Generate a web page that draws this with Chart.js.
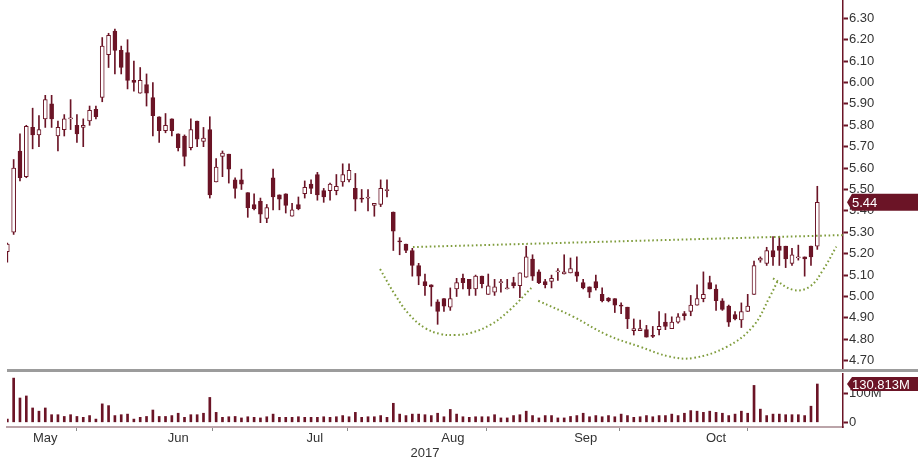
<!DOCTYPE html>
<html>
<head>
<meta charset="utf-8">
<script src="https://cdn.jsdelivr.net/npm/chart.js@4.4.1/dist/chart.umd.min.js"></script>
<style>
  html, body { margin: 0; padding: 0; background: #fff; }
  #wrap { position: relative; width: 918px; height: 463px; overflow: hidden; }
  #price { position: absolute; left: 0; top: 0; }
  #volume { position: absolute; left: 0; top: 372px; }
  #sep { position: absolute; left: 7px; right: 0; top: 369px; height: 3px; background: #9c9c9c; }
</style>
</head>
<body>
<div id="wrap">
  <canvas id="price" width="918" height="370"></canvas>
  <div id="sep"></div>
  <canvas id="volume" width="918" height="91"></canvas>
</div>
<script>
/* daily candles, May - Oct 2017 */
const OPEN = [5.21,5.30,5.68,5.56,5.79,5.755,5.83,5.90,5.75,5.78,
  5.83,5.80,5.79,5.82,5.875,5.93,6.13,6.24,6.15,6.14,
  6.01,5.95,5.99,5.93,5.84,5.775,5.83,5.76,5.75,5.695,
  5.82,5.725,5.78,5.535,5.655,5.665,5.545,5.545,5.485,5.43,
  5.445,5.365,5.555,5.475,5.48,5.375,5.43,5.48,5.525,5.57,
  5.495,5.495,5.495,5.535,5.545,5.505,5.46,5.46,5.425,5.43,
  5.495,5.395,5.26,5.245,5.215,5.145,5.07,5.055,4.975,4.99,
  4.95,5.035,5.085,5.08,5.035,5.095,5.01,5.02,5.065,5.035,
  5.065,5.05,5.09,5.175,5.115,5.07,5.07,5.115,5.105,5.11,
  5.115,5.065,5.045,5.07,5.01,4.992,4.99,4.96,4.95,4.84,
  4.84,4.845,4.818,4.845,4.88,4.85,4.88,4.92,4.93,4.96,
  4.99,5.065,5.035,4.98,4.955,4.915,4.89,4.93,5.01,5.17,
  5.155,5.215,5.235,5.235,5.155,5.18,5.185,5.235,5.235];
const HIGH = [5.25,5.64,5.76,5.80,5.88,5.845,5.94,5.94,5.82,5.85,
  5.92,5.85,5.83,5.89,5.89,6.21,6.23,6.25,6.17,6.20,
  6.10,6.07,6.04,6.00,5.84,5.855,5.83,5.76,5.755,5.83,
  5.82,5.79,5.84,5.645,5.68,5.665,5.555,5.595,5.485,5.48,
  5.46,5.43,5.595,5.475,5.48,5.435,5.465,5.54,5.545,5.58,
  5.505,5.53,5.57,5.62,5.62,5.575,5.50,5.50,5.435,5.545,
  5.545,5.395,5.275,5.245,5.225,5.155,5.105,5.055,4.985,4.99,
  5.04,5.085,5.105,5.08,5.10,5.095,5.105,5.08,5.08,5.08,
  5.09,5.11,5.235,5.195,5.125,5.08,5.10,5.13,5.195,5.18,
  5.185,5.08,5.045,5.10,5.04,4.995,4.99,4.97,4.95,4.895,
  4.89,4.865,4.86,4.93,4.92,4.905,4.92,4.93,5.005,5.055,
  5.115,5.095,5.055,4.99,4.96,4.93,4.97,5.01,5.165,5.185,
  5.23,5.28,5.28,5.235,5.225,5.24,5.185,5.235,5.515];
const LOW = [5.16,5.29,5.54,5.555,5.69,5.70,5.79,5.79,5.68,5.75,
  5.78,5.72,5.70,5.80,5.83,5.91,6.07,6.04,6.04,5.97,
  5.96,5.95,5.89,5.75,5.72,5.765,5.75,5.68,5.61,5.685,
  5.70,5.70,5.46,5.535,5.56,5.53,5.46,5.50,5.37,5.405,
  5.345,5.345,5.405,5.405,5.39,5.375,5.405,5.46,5.48,5.45,
  5.44,5.45,5.475,5.515,5.535,5.40,5.44,5.40,5.375,5.42,
  5.465,5.215,5.195,5.205,5.095,5.055,5.005,4.955,4.87,4.93,
  4.935,5.00,5.035,5.005,5.005,5.04,5.01,5.005,5.02,5.035,
  5.04,4.995,5.09,5.075,5.06,5.04,5.04,5.075,5.105,5.11,
  5.07,5.035,4.995,5.03,4.975,4.975,4.925,4.92,4.85,4.82,
  4.84,4.81,4.808,4.82,4.845,4.85,4.875,4.89,4.91,4.96,
  4.975,5.035,4.935,4.935,4.86,4.89,4.855,4.93,5.01,5.16,
  5.145,5.145,5.145,5.135,5.145,5.17,5.095,5.145,5.22];
const CLOSE = [5.245,5.60,5.555,5.795,5.755,5.78,5.92,5.83,5.79,5.83,
  5.835,5.76,5.80,5.87,5.84,6.17,6.22,6.15,6.07,6.01,
  6.00,6.01,5.95,5.845,5.775,5.80,5.775,5.695,5.655,5.78,
  5.735,5.74,5.475,5.605,5.67,5.595,5.505,5.525,5.415,5.41,
  5.385,5.415,5.465,5.455,5.425,5.405,5.41,5.51,5.505,5.475,
  5.465,5.525,5.515,5.57,5.59,5.455,5.455,5.465,5.435,5.505,
  5.50,5.305,5.255,5.215,5.145,5.095,5.05,5.045,4.93,4.955,
  4.99,5.065,5.065,5.035,5.095,5.06,5.05,5.045,5.07,5.04,
  5.05,5.11,5.185,5.095,5.065,5.055,5.085,5.12,5.115,5.13,
  5.095,5.04,5.02,5.04,4.98,4.98,4.96,4.955,4.895,4.85,
  4.85,4.81,4.813,4.86,4.86,4.88,4.905,4.91,4.96,4.99,
  5.01,5.035,4.98,4.94,4.88,4.895,4.93,4.955,5.145,5.18,
  5.215,5.185,5.215,5.175,5.195,5.185,5.175,5.185,5.44];
// volume, millions of shares
const VOLUME = [11,151,83,90,49,38,49,26,26,20,
  26,20,17,23,11,63,57,23,26,28,
  11,17,20,42,20,20,23,31,17,26,
  26,31,85,34,17,19,20,15,19,17,
  15,19,28,17,17,17,19,17,17,17,
  19,17,19,23,19,34,17,19,19,23,
  17,65,28,23,28,28,26,23,31,19,
  44,28,19,17,19,19,19,26,15,15,
  23,26,38,23,15,23,23,15,15,20,
  23,31,19,23,19,23,19,28,23,17,
  19,23,19,23,23,28,23,31,40,38,
  34,38,34,31,23,28,38,31,126,45,
  23,28,28,26,26,26,23,55,130.813];

const PRICE_TICKS = [4.7,4.8,4.9,5.0,5.1,5.2,5.3,5.4,5.5,5.6,5.7,5.8,5.9,6.0,6.1,6.2,6.3];
const PRICE_MINOR = [4.75,4.85,4.95,5.05,5.15,5.25,5.35,5.45,5.55,5.65,5.75,5.85,5.95,6.05,6.15,6.25,6.35];
const VOL_TICKS = [0, 100];
const MONTHS = ['May','Jun','Jul','Aug','Sep','Oct'];
const MONTH_POS = [6, 27, 48.6, 70.4, 91.4, 112];
const MONTH_BOUNDS = [16, 37.9, 59, 80.9, 102, 122];
const YEAR_TEXT = '2017';
const YEAR_POS = 66;

// hand-drawn pattern lines, [bar index, price]
const NECKLINE = [[64.1,5.231],[132.1,5.287]];
const LEFT_CUP = [[58.9,5.128],[61.3,5.007],[63.6,4.913],[66.0,4.853],[68.4,4.825],[70.7,4.820],[73.1,4.829],[76.3,4.867],[79.4,4.937],[82.8,5.040]];
const HEAD_CUP = [[83.9,4.980],[89.4,4.906],[94.8,4.820],[100.0,4.765],[104.7,4.719],[108.4,4.713],[113.7,4.765],[117.8,4.859],[120.5,4.999],[121.8,5.077]];
const RIGHT_CUP = [[121.0,5.085],[124.2,5.031],[126.8,5.046],[128.9,5.124],[131.0,5.233]];

const X_MIN = -0.05, X_MAX = 132.06;
const MAROON = '#6b1426';
const GREEN = '#7f9c3c';
const TXT = '#333333';
const FONT = "'Liberation Sans', Arial, sans-serif";

const idx = OPEN.map((_, i) => i);
const toPts = arr => arr.map(p => ({x: p[0], y: p[1]}));
const isMajor = v => PRICE_TICKS.some(t => Math.abs(t - v) < 1e-6);

// axis labels never overflow here, so drop the half-label padding chart.js reserves
const noPad = s => { s.paddingTop = 0; s.paddingBottom = 0; s.paddingLeft = 0; s.paddingRight = 0; };

const flagPlugin = {
  id: 'lastFlag',
  afterDraw(chart, args, opts){
    const {ctx, chartArea} = chart;
    const y = chart.scales.y.getPixelForValue(opts.value);
    const x0 = chartArea.right + 4, h = opts.height;
    ctx.save();
    ctx.fillStyle = MAROON;
    ctx.beginPath();
    ctx.moveTo(x0, y);
    ctx.lineTo(x0 + 5, y - h/2);
    ctx.lineTo(chart.width, y - h/2);
    ctx.lineTo(chart.width, y + h/2);
    ctx.lineTo(x0 + 5, y + h/2);
    ctx.closePath();
    ctx.fill();
    ctx.fillStyle = '#fff';
    ctx.font = '13px ' + FONT;
    ctx.textBaseline = 'middle';
    ctx.fillText(opts.text, x0 + 5, y + 1);
    ctx.restore();
  }
};

function dotted(data, tension){
  return { type: 'line', data: toPts(data), borderColor: GREEN, borderWidth: 2,
    borderDash: [1.6, 2.6], pointRadius: 0, tension: tension, fill: false, order: 0 };
}

new Chart(document.getElementById('price'), {
  type: 'bar',
  data: {
    datasets: [
      { data: idx.map(i => ({x: i, y: [OPEN[i], CLOSE[i]]})),
        backgroundColor: idx.map(i => CLOSE[i] >= OPEN[i] ? '#ffffff' : MAROON),
        borderColor: MAROON, borderWidth: 1, borderSkipped: false,
        barThickness: 4, grouped: false, order: 1 },
      { data: idx.map(i => ({x: i, y: [LOW[i], HIGH[i]]})),
        backgroundColor: MAROON, barThickness: 1, grouped: false, order: 2 },
      dotted(NECKLINE, 0),
      dotted(LEFT_CUP, 0.4),
      dotted(HEAD_CUP, 0.4),
      dotted(RIGHT_CUP, 0.4)
    ]
  },
  options: {
    responsive: false, animation: false,
    layout: { padding: { left: 7, top: 0, right: 0, bottom: 0 } },
    plugins: { legend: {display: false}, tooltip: {enabled: false},
      lastFlag: { value: CLOSE[CLOSE.length - 1], text: CLOSE[CLOSE.length - 1].toFixed(2), height: 17 } },
    scales: {
      x: { type: 'linear', min: X_MIN, max: X_MAX, offset: false, display: false },
      y: { position: 'right', min: 4.6565, max: 6.3855,
        afterBuildTicks: s => { s.ticks = PRICE_TICKS.concat(PRICE_MINOR).sort((a, b) => a - b).map(v => ({value: v})); },
        afterFit: s => { s.width = 75; noPad(s); },
        grid: { drawOnChartArea: false, tickLength: 5,
          tickWidth: c => isMajor(c.tick.value) ? 2 : 1,
          tickBorderDash: c => isMajor(c.tick.value) ? [] : [2, 8],
          tickColor: MAROON },
        border: { color: MAROON, width: 1.5 },
        ticks: { padding: 1, color: TXT, font: { family: FONT, size: 13 },
          callback: v => isMajor(v) ? Number(v).toFixed(2) : '' } }
    }
  },
  plugins: [flagPlugin]
});

const X_TICKS = MONTH_BOUNDS.map(v => ({value: v, label: ''}))
  .concat(MONTH_POS.map((v, i) => ({value: v, label: MONTHS[i]})))
  .concat([{value: YEAR_POS, label: ['', YEAR_TEXT]}])
  .sort((a, b) => a.value - b.value);

new Chart(document.getElementById('volume'), {
  type: 'bar',
  data: {
    datasets: [
      { data: idx.map(i => ({x: i, y: VOLUME[i]})), backgroundColor: MAROON,
        barThickness: 2, grouped: false }
    ]
  },
  options: {
    responsive: false, animation: false,
    layout: { padding: { left: 7, top: 2, right: 0, bottom: 0 } },
    plugins: { legend: {display: false}, tooltip: {enabled: false},
      lastFlag: { value: VOLUME[VOLUME.length - 1], text: VOLUME[VOLUME.length - 1].toFixed(3) + 'M', height: 14 } },
    scales: {
      x: { type: 'linear', min: X_MIN, max: X_MAX, offset: false,
        afterBuildTicks: s => { s.ticks = X_TICKS.map(t => ({value: t.value})); },
        afterFit: s => { s.height = 36; noPad(s); },
        grid: { drawOnChartArea: false, tickLength: 4, tickWidth: 1,
          tickColor: c => MONTH_BOUNDS.includes(c.tick && c.tick.value) ? '#8a8a8a' : 'rgba(0,0,0,0)' },
        border: { color: '#bba4a9', width: 2 },
        ticks: { autoSkip: false, maxRotation: 0, padding: 0, color: TXT,
          font: { family: FONT, size: 13, lineHeight: 1.15 },
          callback: (v, i) => X_TICKS[i] ? X_TICKS[i].label : '' } },
      y: { position: 'right', min: -16, max: 165,
        afterBuildTicks: s => { s.ticks = VOL_TICKS.map(v => ({value: v})); },
        afterFit: s => { s.width = 75; noPad(s); },
        grid: { drawOnChartArea: false, tickLength: 5, tickWidth: 2, tickColor: MAROON },
        border: { color: MAROON, width: 1.5 },
        ticks: { padding: 1, color: TXT, font: { family: FONT, size: 13 },
          callback: v => v === 0 ? '0' : v + 'M' } }
    }
  },
  plugins: [flagPlugin]
});
</script>
</body>
</html>
